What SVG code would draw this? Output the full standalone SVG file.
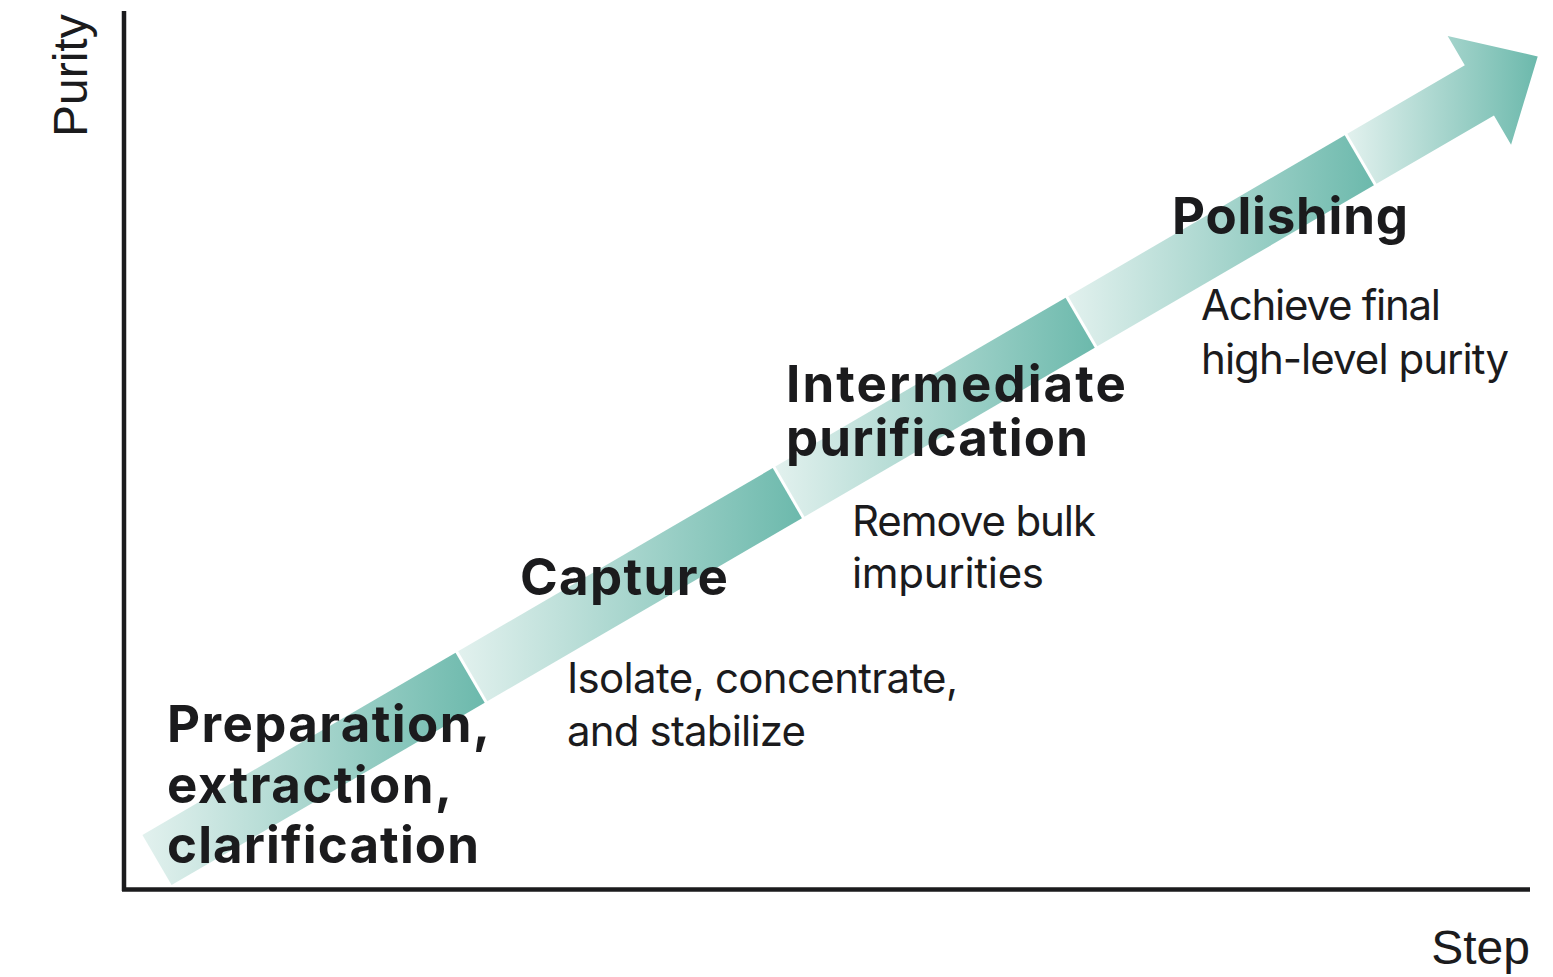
<svg xmlns="http://www.w3.org/2000/svg" width="1553" height="977" viewBox="0 0 1553 977">
<defs>
<linearGradient id="seg" x1="0" y1="0" x2="1" y2="0">
<stop offset="0" stop-color="#e2f1ee"/>
<stop offset="1" stop-color="#6cb9ac"/>
</linearGradient>
<style>
.t{font-family:Inter,"Liberation Sans",Arial,sans-serif;fill:#1b1b1d}
.b{font-weight:bold;font-size:51px}
.r{font-size:42px}
.ax{font-size:48px;font-family:"Liberation Sans",Arial,sans-serif}
.axis{stroke:#1b1b1d;stroke-width:4.5;fill:none}
.seg{fill:url(#seg)}
</style>
</defs>
<rect width="1553" height="977" fill="#ffffff"/>
<g id="connectors">
<g id="axes">
<line class="axis" x1="124" y1="11" x2="124" y2="891"/>
<line class="axis" x1="122" y1="889.5" x2="1530" y2="889.5"/>
</g>
<g id="arrow">
<polygon class="seg" points="142.41,834.94 455.55,652.70 484.73,702.82 171.59,885.06"/>
<polygon class="seg" points="458.14,651.19 772.74,468.10 801.92,518.22 487.32,701.31"/>
<polygon class="seg" points="775.33,466.59 1065.57,297.69 1094.75,347.81 804.51,516.71"/>
<polygon class="seg" points="1068.16,296.18 1344.74,135.22 1373.92,185.34 1097.34,346.30"/>
<polygon class="seg" points="1347.33,133.71 1464.79,65.35 1447.69,35.96 1537.72,56.46 1511.07,144.86 1493.97,115.47 1376.51,183.83"/>
</g>
</g>
<g id="axis-labels">
<text class="t ax" transform="translate(87,137) rotate(-90)">Purity</text>
<text class="t ax" x="1530" y="964" text-anchor="end">Step</text>
</g>
<g id="stage-preparation">
<text class="t b" x="167" y="742" textLength="323" lengthAdjust="spacing">Preparation,</text>
<text class="t b" x="167" y="803" textLength="285" lengthAdjust="spacing">extraction,</text>
<text class="t b" x="167" y="863" textLength="312" lengthAdjust="spacing">clarification</text>
</g>
<g id="stage-capture">
<text class="t b" x="520" y="595" textLength="208" lengthAdjust="spacing">Capture</text>
<text class="t r" x="567" y="693" textLength="391" lengthAdjust="spacing">Isolate, concentrate,</text>
<text class="t r" x="567" y="746" textLength="239" lengthAdjust="spacing">and stabilize</text>
</g>
<g id="stage-intermediate">
<text class="t b" x="786" y="402" textLength="340" lengthAdjust="spacing">Intermediate</text>
<text class="t b" x="786" y="456" textLength="302" lengthAdjust="spacing">purification</text>
<text class="t r" x="852" y="536" textLength="244" lengthAdjust="spacing">Remove bulk</text>
<text class="t r" x="852" y="588" textLength="192" lengthAdjust="spacing">impurities</text>
</g>
<g id="stage-polishing">
<text class="t b" x="1172" y="234" textLength="236" lengthAdjust="spacing">Polishing</text>
<text class="t r" x="1201" y="320" textLength="240" lengthAdjust="spacing">Achieve final</text>
<text class="t r" x="1201" y="374" textLength="308" lengthAdjust="spacing">high-level purity</text>
</g>
</svg>
